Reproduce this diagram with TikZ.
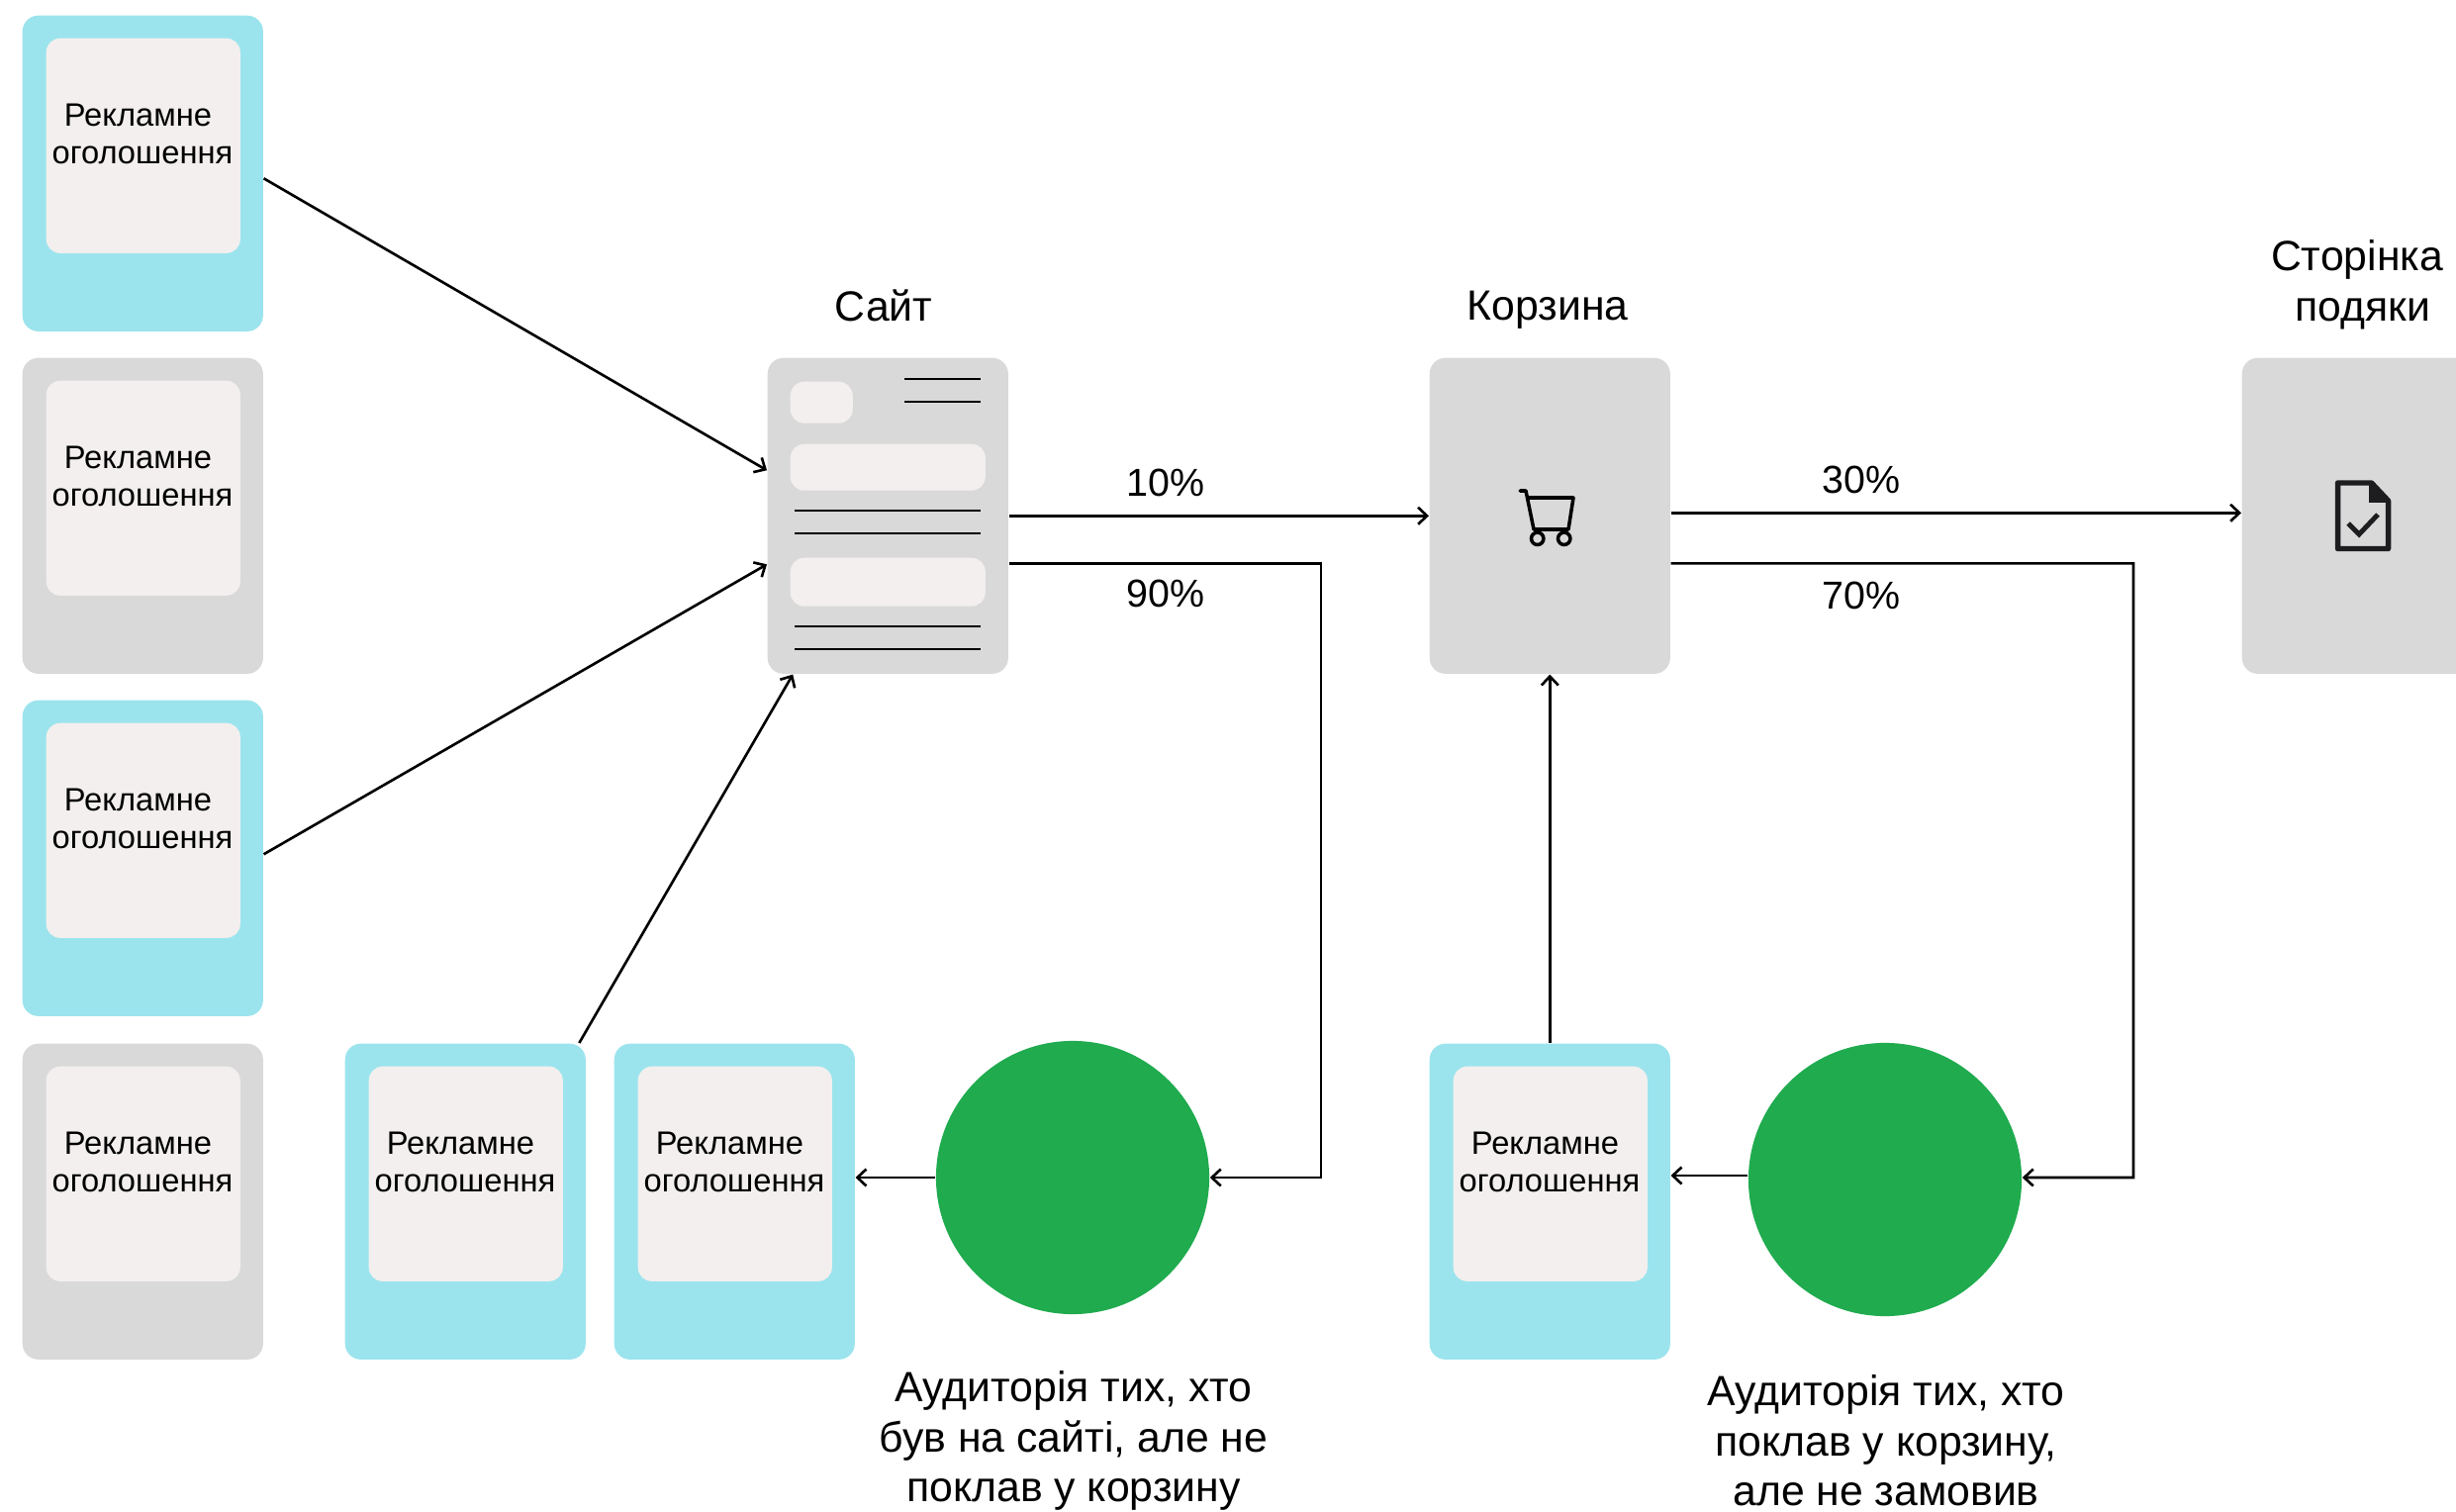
\documentclass[tikz,border=0pt]{standalone}
\usepackage{fontspec}
\setmainfont{Liberation Sans}
\usetikzlibrary{arrows.meta}
\definecolor{cardblue}{HTML}{9CE4ED}
\definecolor{cardgray}{HTML}{D9D9D9}
\definecolor{panel}{HTML}{F2EFEE}
\definecolor{audience}{HTML}{1FAB4E}
\definecolor{icon}{HTML}{1D1D1F}
\tikzset{
	card/.style={rounded corners=0.16cm, minimum width=2.43cm, minimum height=3.19cm, inner sep=0pt, anchor=north west},
	inner panel/.style={rounded corners=0.14cm, fill=panel, minimum width=1.96cm, minimum height=2.17cm, inner sep=0pt, anchor=north west},
	page panel/.style={rounded corners=0.14cm, fill=panel, inner sep=0pt, anchor=north west},
	adtext/.style={font=\fontsize{9.3}{10.8}\selectfont, align=center, inner sep=0pt},
	biglabel/.style={font=\fontsize{12.15}{14.4}\selectfont, align=center, inner sep=0pt},
	ratelabel/.style={font=\fontsize{11.2}{14.2}\selectfont, inner sep=0pt},
	flow/.style={-{Straight Barb[length=0.09cm,width=0.17cm]}, line width=0.75pt, black},
	stripe/.style={line width=0.85pt, black},
}
\begin{document}
\begin{tikzpicture}[x=0.01cm, y=-0.01cm]
	\useasboundingbox (0,0) rectangle (2482,1528);

	% advertisement cards
	\foreach \n/\x/\y/\c in {adA/22/15/cardblue, adB/22/361/cardgray, adC/22/707/cardblue, adD/22/1054/cardgray, adE/348/1054/cardblue, adF/620/1054/cardblue, adG/1444/1054/cardblue}{
		\node[card, fill=\c] (\n) at (\x,\y) {};
		\node[inner panel] (\n panel) at (\x+24,\y+23) {};
		\node[adtext] (\n text) at (\x+122,\y+120) {Рекламне~~\\оголошення};
	}

	% site
	\node[card, fill=cardgray] (site) at (775,361) {};
	\node[page panel, minimum width=0.63cm, minimum height=0.42cm] (sitelogo) at (798,385) {};
	\node[page panel, minimum width=1.97cm, minimum height=0.47cm] (sitebanner) at (798,448) {};
	\node[page panel, minimum width=1.97cm, minimum height=0.49cm] (siteform) at (798,563) {};
	\draw[stripe] (914,383) -- (991,383);
	\draw[stripe] (914,406) -- (991,406);
	\draw[stripe] (803,516) -- (991,516);
	\draw[stripe] (803,539) -- (991,539);
	\draw[stripe] (803,633) -- (991,633);
	\draw[stripe] (803,656) -- (991,656);
	\node[biglabel] (sitename) at (893,309) {Сайт};

	% cart
	\node[card, fill=cardgray] (cart) at (1444,361) {};
	\draw[line width=1pt, line join=round, line cap=round] (1536,496) -- (1542,496) -- (1550,535) -- (1585,535) -- (1590,503) -- (1544,503);
	\draw[line width=1pt] (1553.7,544.3) circle (6.2);
	\draw[line width=1pt] (1580.7,544.3) circle (6.2);
	\node[biglabel] (cartname) at (1564,313) {Корзина};

	% thanks page, cut by the right edge
	\begin{scope}
		\clip (0,0) rectangle (2482,1528);
		\node[card, fill=cardgray, minimum width=2.6cm] (thanks) at (2265,361) {};
	\end{scope}
	\draw[icon, line width=1.55pt, line join=round] (2362.5,488) -- (2396.5,488) -- (2413.5,506) -- (2413.5,554.5) -- (2362.5,554.5) -- cycle;
	\fill[icon] (2394,486) -- (2394,508) -- (2415,508) -- cycle;
	\draw[icon, line width=1.4pt] (2373,529) -- (2384,540) -- (2403,520);
	\node[biglabel] (thanksname) at (2382,288) {Сторінка\\~подяки};

	% audiences
	\node[circle, fill=audience, minimum size=2.76cm, inner sep=0pt] (visitors) at (1084,1190) {};
	\node[circle, fill=audience, minimum size=2.76cm, inner sep=0pt] (buyers) at (1905,1192) {};
	\node[biglabel] (visitorsname) at (1085,1456) {Аудиторія тих, хто\\був на сайті, але не\\поклав у корзину};
	\node[biglabel] (buyersname) at (1906,1456) {Аудиторія тих, хто\\поклав у корзину,\\але не замовив};

	% percentages
	\node[ratelabel] (rateA) at (1178,488) {10\%};
	\node[ratelabel] (rateB) at (1178,600) {90\%};
	\node[ratelabel] (rateC) at (1881,485) {30\%};
	\node[ratelabel] (rateD) at (1881,602) {70\%};

	% connectors
	\draw[flow] ([yshift=-0.05cm]adA.east) -- ([yshift=0.46cm]site.west);
	\draw[flow] ([yshift=0.04cm]adC.east) -- ([yshift=-0.49cm]site.west);
	\draw[flow] ([xshift=1.15cm]adE.north) -- ([xshift=-0.96cm]site.south);
	\draw[flow] (site.east) -- (cart.west);
	\draw[flow] ([yshift=-0.48cm]site.east) -| (1335,1190) -- (visitors.east);
	\draw[flow] (visitors.west) -- (adF.east |- visitors.west);
	\draw[flow] ([yshift=0.03cm]cart.east) -- ([yshift=0.03cm]thanks.west);
	\draw[flow] ([yshift=-0.48cm]cart.east) -| (2156,1190) -- ([yshift=0.02cm]buyers.east);
	\draw[flow] ([yshift=0.04cm]buyers.west) -- ([yshift=0.04cm]adG.east |- buyers.west);
	\draw[flow] (adG.north) -- (cart.south);
\end{tikzpicture}
\end{document}
